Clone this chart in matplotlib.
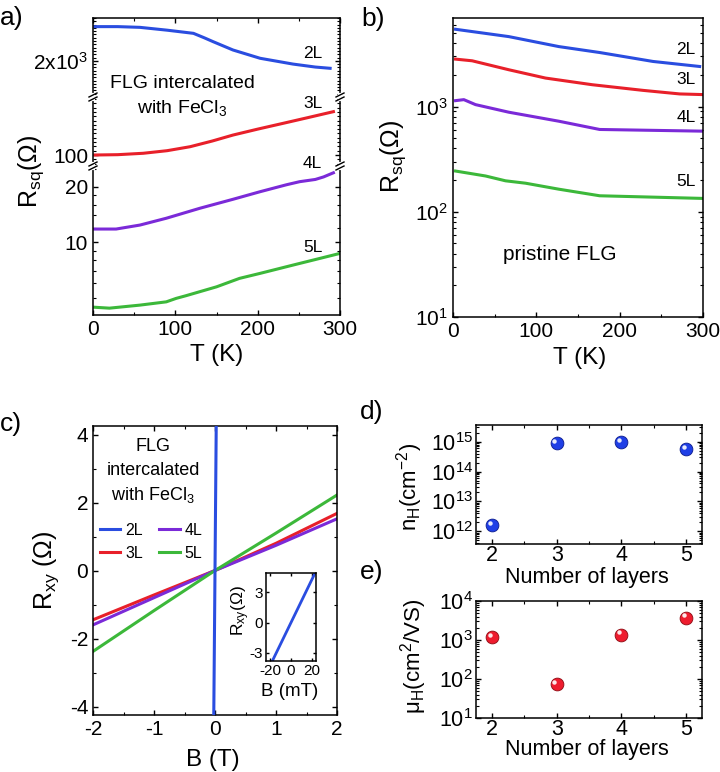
import matplotlib
matplotlib.use("Agg")
import matplotlib.pyplot as plt
import matplotlib.ticker as mt
from matplotlib.lines import Line2D
from matplotlib.transforms import offset_copy

plt.rcParams['font.family'] = ['Liberation Sans', 'DejaVu Sans']
plt.rcParams['mathtext.fontset'] = 'custom'
plt.rcParams['mathtext.rm'] = 'Liberation Sans'
plt.rcParams['mathtext.it'] = 'Liberation Sans:italic'
plt.rcParams['mathtext.default'] = 'regular'
plt.rcParams['axes.unicode_minus'] = False
plt.rcParams['axes.linewidth'] = 1.1
for a in ('xtick', 'ytick'):
    plt.rcParams[a + '.direction'] = 'in'
    plt.rcParams[a + '.major.size'] = 3.5
    plt.rcParams[a + '.minor.size'] = 2.0
    plt.rcParams[a + '.major.width'] = 1.0
    plt.rcParams[a + '.minor.width'] = 0.8

BLUE, RED, PURPLE, GREEN = '#2a4de0', '#e8202a', '#7b2ad8', '#3cb83a'

# ---- a) FLG intercalated with FeCl3, R_sq vs T
T_a2L = [2, 30, 57, 90, 122, 135, 146, 170, 203, 243, 270, 288]
R_a2L = [2519, 2519, 2508, 2465, 2417, 2350, 2290, 2164, 2038, 1950, 1905, 1886]
T_a3L = [2, 30, 61, 90, 118, 145, 170, 200, 231, 260, 292]
R_a3L = [100.0, 100.3, 101.6, 104.0, 107.7, 113.0, 118.5, 124.0, 129.4, 134.5, 140.2]
T_a4L = [2, 28, 57, 89, 130, 170, 203, 235, 251, 270, 280, 292]
R_a4L = [11.8, 11.8, 12.4, 13.5, 15.3, 17.1, 18.8, 20.5, 21.3, 21.9, 22.6, 23.8]
T_a5L = [2, 20, 57, 89, 101, 113, 150, 178, 203, 243, 300]
R_a5L = [4.45, 4.40, 4.57, 4.76, 4.97, 5.14, 5.74, 6.38, 6.79, 7.53, 8.71]

# ---- b) pristine FLG
T_b2L = [3, 67, 127, 176, 240, 296]
R_b2L = [5430, 4625, 3718, 3265, 2685, 2405]
T_b3L = [3, 23, 67, 111, 167, 228, 272, 300]
R_b3L = [2826, 2724, 2239, 1867, 1614, 1426, 1319, 1300]
T_b4L = [3, 13, 27, 67, 127, 176, 300]
R_b4L = [1139, 1164, 1044, 884, 726, 606, 584]
T_b5L = [3, 39, 63, 87, 127, 176, 300]
R_b5L = [244, 219, 197, 187, 164, 142, 134]

# ---- c) Hall resistance
B_c = [-2, -1, 0, 1, 2]
Rxy_3L = [-1.45, -0.72, 0, 0.80, 1.68]
Rxy_4L = [-1.60, -0.80, 0, 0.74, 1.52]
Rxy_5L = [-2.38, -1.18, 0, 1.10, 2.22]
B_2L = [-0.025, 0.025]
Rxy_2L = [-5.3, 5.3]

# ---- d), e) vs number of layers
layers = [2, 3, 4, 5]
n_H = [1.6e12, 8.9e14, 9.5e14, 5.5e14]
mu_H = [1190, 73, 1375, 3750]

W, H = 720, 772
fig = plt.figure(figsize=(W / 100, H / 100), dpi=100)


def box(l, t, r, b):
    return fig.add_axes([l / W, 1 - b / H, (r - l) / W, (b - t) / H])


def ftext(x, y, s, **kw):
    kw.setdefault('ha', 'center')
    kw.setdefault('va', 'center')
    return fig.text(x / W, 1 - y / H, s, **kw)


def brk(x, y):
    fig.add_artist(Line2D([x / W, x / W], [1 - (y - 2) / H, 1 - (y + 2) / H], color='white', lw=3))
    for dy in (-2, 2):
        fig.add_artist(Line2D([(x - 4) / W, (x + 4) / W], [1 - (y + dy + 2) / H, 1 - (y + dy - 2) / H],
                              color='black', lw=1.0))


def tx(ax):
    ax.set_xlim(0, 300)
    ax.xaxis.set_major_locator(mt.MultipleLocator(100))
    ax.xaxis.set_minor_locator(mt.MultipleLocator(50))
    ax.tick_params(which='both', right=True, labelsize=15)


# panel a: three stacked segments with broken axis
axA1 = box(93, 18, 340, 97)
axA2 = box(93, 97, 340, 166)
axA3 = box(93, 166, 340, 315)
for ax in (axA1, axA2, axA3):
    tx(ax)
axA1.plot(T_a2L, R_a2L, color=BLUE, lw=2.2)
axA1.set_ylim(1450, 2650)
axA1.set_yticks([2000], ['2x10$^3$'])
axA1.yaxis.set_minor_locator(mt.MultipleLocator(50))
axA1.tick_params(axis='x', which='both', bottom=False, top=True, labelbottom=False)
axA1.spines['bottom'].set_visible(False)

axA2.plot(T_a3L, R_a3L, color=RED, lw=2.2)
axA2.set_ylim(89.8, 153.8)
axA2.set_yticks([100], ['100'])
axA2.yaxis.set_minor_locator(mt.MultipleLocator(4))
axA2.tick_params(axis='x', which='both', bottom=False, top=False, labelbottom=False)
axA2.spines['top'].set_visible(False)
axA2.spines['bottom'].set_visible(False)

axA3.plot(T_a4L, R_a4L, color=PURPLE, lw=2.2)
axA3.plot(T_a5L, R_a5L, color=GREEN, lw=2.2)
axA3.set_yscale('log')
axA3.set_ylim(4.04, 25.9)
axA3.set_yticks([10, 20], ['10', '20'])
axA3.yaxis.set_minor_locator(mt.FixedLocator([5, 6, 7, 8, 9, 12, 14, 16, 18, 25]))
axA3.yaxis.set_minor_formatter(mt.NullFormatter())
axA3.tick_params(axis='x', which='both', top=False)
axA3.spines['top'].set_visible(False)
for x in (93, 340):
    for y in (97, 166):
        brk(x, y)

ftext(313, 53, '2L', fontsize=12.5)
ftext(313, 103, '3L', fontsize=12.5)
ftext(312, 163, '4L', fontsize=12.5)
ftext(313, 247, '5L', fontsize=12.5)
ftext(182, 83, 'FLG intercalated', fontsize=14)
ftext(182, 108, 'with FeCl$_3$', fontsize=14)
ftext(31, 171, 'R$_{sq}$(Ω)', fontsize=18, rotation=90)
ftext(217, 355, 'T (K)', fontsize=17.5)

# panel b
axB = box(453, 18, 703, 317)
tx(axB)
axB.plot(T_b2L, R_b2L, color=BLUE, lw=2.2)
axB.plot(T_b3L, R_b3L, color=RED, lw=2.2)
axB.plot(T_b4L, R_b4L, color=PURPLE, lw=2.2)
axB.plot(T_b5L, R_b5L, color=GREEN, lw=2.2)
axB.set_yscale('log')
axB.set_ylim(10, 6950)
axB.yaxis.set_major_locator(mt.LogLocator(base=10, numticks=20))
axB.yaxis.set_minor_locator(mt.LogLocator(base=10, subs=range(2, 10), numticks=20))
axB.yaxis.set_minor_formatter(mt.NullFormatter())
for s, y in (('2L', 50), ('3L', 80), ('4L', 117), ('5L', 182)):
    ftext(686, y, s, fontsize=12.5)
ftext(560, 255, 'pristine FLG', fontsize=15)
ftext(393, 156, 'R$_{sq}$(Ω)', fontsize=18, rotation=90)
ftext(580, 358, 'T (K)', fontsize=17.5)

# panel c
axC = box(93, 426, 337, 715)
h2, = axC.plot(B_2L, Rxy_2L, color=BLUE, lw=2.2, zorder=3, label='2L')
h3, = axC.plot(B_c, Rxy_3L, color=RED, lw=2.2, label='3L')
h4, = axC.plot(B_c, Rxy_4L, color=PURPLE, lw=2.2, label='4L')
h5, = axC.plot(B_c, Rxy_5L, color=GREEN, lw=2.2, label='5L')
axC.set_xlim(-2, 2)
axC.set_ylim(-4.25, 4.25)
axC.xaxis.set_major_locator(mt.MultipleLocator(1))
axC.xaxis.set_minor_locator(mt.MultipleLocator(0.5))
axC.yaxis.set_major_locator(mt.MultipleLocator(2))
axC.yaxis.set_minor_locator(mt.MultipleLocator(1))
axC.tick_params(which='both', top=True, right=True, labelsize=15)
axC.legend(handles=[h2, h3, h4, h5], ncol=2, frameon=False, fontsize=11.5,
           handlelength=1.3, handletextpad=0.3, columnspacing=1.0, labelspacing=0.5,
           loc='center', bbox_to_anchor=(151 / W, 1 - 542 / H), bbox_transform=fig.transFigure)
ftext(153, 447, 'FLG', fontsize=13)
ftext(153, 471, 'intercalated', fontsize=13)
ftext(153, 495, 'with FeCl$_3$', fontsize=13)
ftext(46, 570, 'R$_{xy}$ (Ω)', fontsize=18, rotation=90)
ftext(213, 760, 'B (T)', fontsize=17.5)

# inset
axI = box(266, 573, 316, 661)
axI.plot([b * 1000 for b in B_2L], Rxy_2L, color=BLUE, lw=2.0)
axI.set_xlim(-24, 24)
axI.set_ylim(-3.8, 4.9)
axI.set_xticks([-20, 0, 20])
axI.set_yticks([-3, 0, 3])
axI.tick_params(top=True, right=True, labelsize=11, length=2.5, pad=2)
ftext(241, 611, 'R$_{xy}$(Ω)', fontsize=12.5, rotation=90)
ftext(290, 691, 'B (mT)', fontsize=13.5)


# panels d, e
def spheres(ax, x, y, color, edge):
    ax.plot(x, y, 'o', ms=9.2, color=color, mec=edge, mew=0.6, ls='none', zorder=3)
    ax.plot(x, y, 'o', ms=3.2, color='white', mew=0, alpha=0.9, ls='none', zorder=4,
            transform=offset_copy(ax.transData, fig=fig, x=-1.6, y=1.6, units='points'))


def layer_axis(ax, decades):
    ax.set_xlim(1.75, 5.25)
    ax.set_yscale('log')
    ax.xaxis.set_major_locator(mt.FixedLocator(layers))
    ax.xaxis.set_minor_locator(mt.MultipleLocator(0.5))
    ax.yaxis.set_major_locator(mt.FixedLocator([10.0 ** d for d in decades]))
    ax.yaxis.set_major_formatter(mt.FixedFormatter(['10$^{%d}$' % d for d in decades]))
    ax.yaxis.set_minor_locator(mt.LogLocator(base=10, subs=range(2, 10), numticks=30))
    ax.yaxis.set_minor_formatter(mt.NullFormatter())
    ax.tick_params(which='both', top=True, right=True, labelsize=15.5)
    ax.tick_params(axis='x', pad=1)
    ax.tick_params(axis='y', pad=2)


axD = box(476, 425, 702, 544)
layer_axis(axD, [12, 13, 14, 15])
axD.set_ylim(3.8e11, 3.6e15)
spheres(axD, layers, n_H, '#1f3fe6', '#0b1b8c')
ftext(410, 487, 'n$_H$(cm$^{-2}$)', fontsize=16, rotation=90)
ftext(587, 577, 'Number of layers', fontsize=15.5)

axE = box(476, 601, 702, 718)
layer_axis(axE, [1, 2, 3, 4])
axE.set_ylim(10, 1e4)
spheres(axE, layers, mu_H, '#ee1c2e', '#8c0a12')
ftext(414, 656, 'μ$_H$(cm$^2$/VS)', fontsize=16, rotation=90)
ftext(587, 750, 'Number of layers', fontsize=15.5)

for s, x, y in (('a)', 12, 18), ('b)', 373, 19), ('c)', 11, 424), ('d)', 372, 412), ('e)', 372, 572)):
    ftext(x, y, s, fontsize=19)

fig.savefig('out.png', dpi=100)
